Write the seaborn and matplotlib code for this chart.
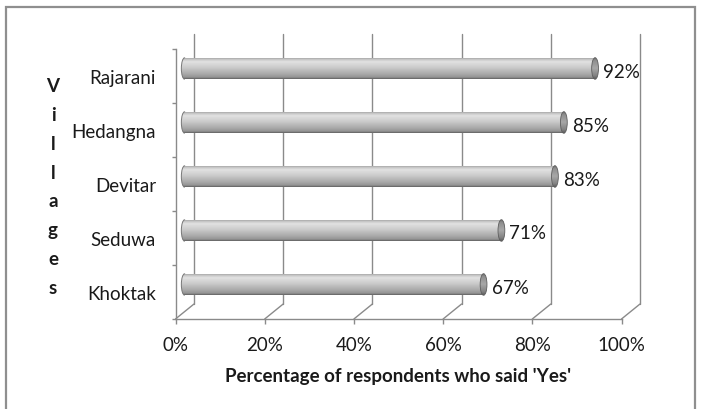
import matplotlib
matplotlib.use("Agg")
import matplotlib.pyplot as plt
import seaborn as sns
import numpy as np
import pandas as pd
from matplotlib.transforms import ScaledTranslation
from matplotlib.patches import Ellipse, Rectangle, Arc
from matplotlib.colors import LinearSegmentedColormap
from matplotlib.ticker import PercentFormatter, FixedLocator

# ---- data ----
villages = ["Rajarani", "Hedangna", "Devitar", "Seduwa", "Khoktak"]
yes_pct = [92, 85, 83, 71, 67]
x_ticks = [0, 20, 40, 60, 80, 100]
x_label = "Percentage of respondents who said 'Yes'"
y_label = "Villages"

df = pd.DataFrame({"village": villages, "pct": yes_pct})

sns.set_theme(style="white")
FONT = ["Lato", "DejaVu Sans"]
plt.rcParams["font.family"] = FONT

W, H = 704, 410
fig = plt.figure(figsize=(W / 100, H / 100), dpi=100)
# front plane of the 3-D box
L, R, T, B = 175.5, 621.5, 50, 320
ax = fig.add_axes([L / W, (H - B) / H, (R - L) / W, (B - T) / H])

LINE = "#8a8a8a"
TXT = "#1a1a1a"
FS = 13.5
DX, DY = 18.5, 15.0  # depth offset (px) front -> back

def off(fx):
    return ScaledTranslation(DX * fx / 100, DY * fx / 100, fig.dpi_scale_trans)

mid = ax.transData + off(0.5)
back = ax.transData + off(1.0)

sns.barplot(data=df, x="pct", y="village", orient="h", order=villages,
            color="#c8c8c8", width=0.4, ax=ax, zorder=3)

body_cmap = LinearSegmentedColormap.from_list(
    "body", [(0, "#747474"), (0.06, "#b8b8b8"), (0.2, "#e2e2e2"),
             (0.5, "#c8c8c8"), (0.8, "#a6a6a6"), (0.93, "#939393"), (1, "#606060")])
cap_cmap = LinearSegmentedColormap.from_list(
    "cap", [(0, "#666666"), (0.15, "#8e8e8e"), (0.5, "#a8a8a8"),
            (0.85, "#828282"), (1, "#5e5e5e")])
grad = np.linspace(0, 1, 64).reshape(-1, 1)

px_per_x = (R - L) / 100.0
cap_w = 6.8 / px_per_x

for p in list(ax.patches):
    x0, y0, w, h = p.get_x(), p.get_y(), p.get_width(), p.get_height()
    yc = y0 + h / 2
    p.set_transform(mid)
    p.set_facecolor("none")
    p.set_edgecolor("none")
    # left rounded end
    le = Ellipse((x0, yc), cap_w, h, transform=mid, facecolor="none",
                 edgecolor="none", zorder=2.5)
    ax.add_patch(le)
    im = ax.imshow(grad, cmap=body_cmap, extent=[x0 - cap_w, x0 + w, y0 + h, y0],
                   aspect="auto", transform=mid, zorder=2.6, interpolation="bilinear")
    im.set_clip_path(le)
    ax.add_patch(Arc((x0, yc), cap_w, h, theta1=90, theta2=270, transform=mid,
                     edgecolor="#777777", lw=0.7, zorder=3.2))
    im2 = ax.imshow(grad, cmap=body_cmap, extent=[x0, x0 + w, y0 + h, y0],
                    aspect="auto", transform=mid, zorder=3, interpolation="bilinear")
    im2.set_clip_path(p)
    # right end face
    re = Ellipse((x0 + w, yc), cap_w, h, transform=mid, facecolor="none",
                 edgecolor="#5e5e5e", lw=0.6, zorder=4.1)
    ax.add_patch(re)
    im3 = ax.imshow(grad, cmap=cap_cmap, extent=[x0 + w - cap_w, x0 + w + cap_w, y0 + h, y0],
                    aspect="auto", transform=mid, zorder=4, interpolation="bilinear")
    im3.set_clip_path(re)
    # value label
    ax.text(x0 + w, yc, f"{int(round(w))}%",
            transform=mid + ScaledTranslation(0.08, -0.025, fig.dpi_scale_trans),
            ha="left", va="center", fontsize=FS, color=TXT, zorder=5)

ax.set_xlim(0, 100)
ax.set_ylim(len(villages) - 0.5, -0.5)

# back wall gridlines + floor diagonals
y_bot, y_top = len(villages) - 0.5, -0.5
inv = ax.transData.inverted()
for xv in x_ticks:
    ax.plot([xv, xv], [y_bot, y_top], transform=back, color=LINE, lw=1.0,
            clip_on=False, zorder=1)
    d0 = inv.transform(ax.transData.transform((xv, y_bot)))
    d1 = inv.transform(back.transform((xv, y_bot)))
    ax.plot([d0[0], d1[0]], [d0[1], d1[1]], color=LINE, lw=1.0, clip_on=False, zorder=1)

# spines
for s in ["top", "right"]:
    ax.spines[s].set_visible(False)
for s in ["left", "bottom"]:
    ax.spines[s].set_color(LINE)
    ax.spines[s].set_linewidth(1.0)

ax.xaxis.set_major_locator(FixedLocator(x_ticks))
ax.xaxis.set_major_formatter(PercentFormatter(decimals=0))
ax.tick_params(axis="x", which="major", direction="out", length=3.5, width=1.0,
               color=LINE, labelsize=FS, labelcolor=TXT, pad=9, bottom=True)
ax.set_yticks(range(len(villages)))
ax.set_yticklabels(villages)
ax.tick_params(axis="y", which="major", length=0, labelsize=FS, labelcolor=TXT, pad=14)
ax.yaxis.set_minor_locator(FixedLocator(np.arange(-0.5, len(villages), 1.0)))
ax.tick_params(axis="y", which="minor", direction="out", length=3.0, width=1.0,
               color=LINE, left=True)

ax.set_xlabel(x_label, fontsize=FS, fontweight="bold", color=TXT)
ax.xaxis.set_label_coords(0.5, -0.211)
ax.xaxis.label.set_va("center")
ax.set_ylabel("\n".join(y_label), rotation=0, fontsize=FS, fontweight="bold",
              color=TXT, linespacing=1.84, ha="center", va="center")
ax.yaxis.set_label_coords((53 - L) / (R - L), (B - 187.5) / (B - T))
ax.set_facecolor("none")
ax.grid(False)

# outer chart border
fig.add_artist(Rectangle((6 / W, -0.05), (695 - 6) / W, (H - 8) / H + 0.05,
                         transform=fig.transFigure, fill=False, ec="#8f8f8f", lw=1.6))

fig.savefig("out.png", dpi=100, facecolor="white")
